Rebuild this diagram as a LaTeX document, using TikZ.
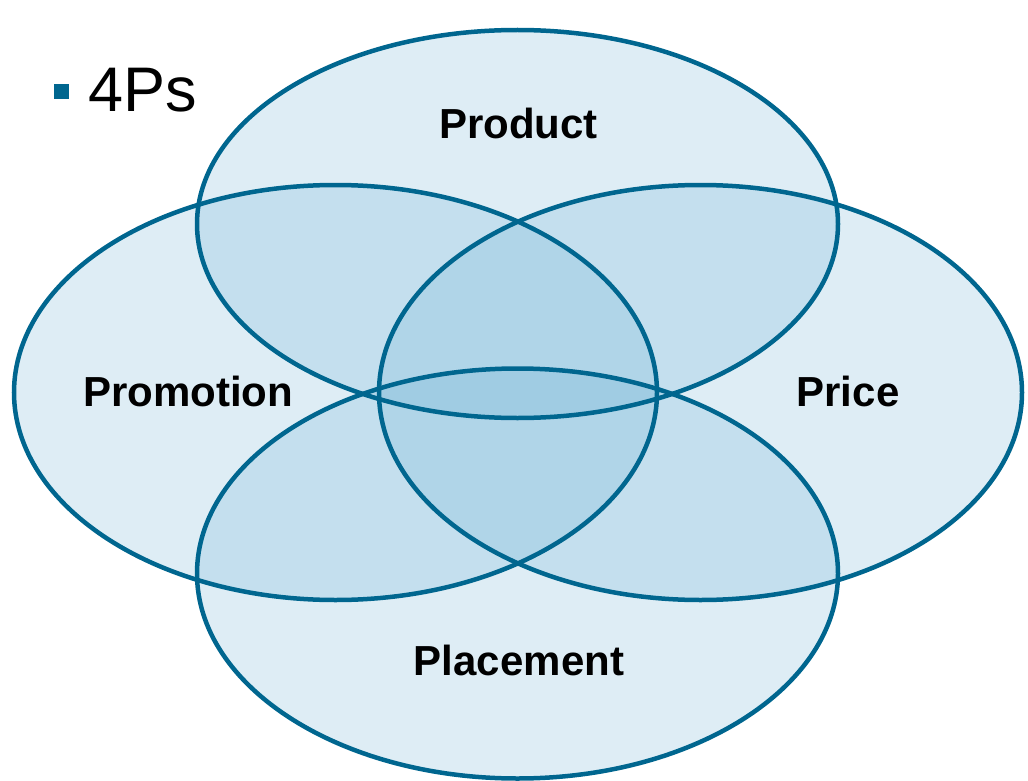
\documentclass[tikz,border=0pt]{standalone}
\usepackage{fontspec}
\setmainfont{Liberation Sans}
\definecolor{ring}{RGB}{0,102,143}
\definecolor{venn}{RGB}{100,172,210}
\tikzset{
  vfill/.style={fill=venn, fill opacity=0.21},
  vline/.style={draw=ring, line width=4.5pt},
  lbl/.style={font=\fontsize{42}{44}\selectfont\bfseries, text=black, inner sep=0pt, anchor=base}
}
\begin{document}
\begin{tikzpicture}[x=1pt,y=-1pt]
\useasboundingbox (0,0) rectangle (1028,781);
% fills
\path[vfill] (517.5,224) ellipse [x radius=320.5, y radius=194];
\path[vfill] (335.5,392.5) ellipse [x radius=321.5, y radius=207.5];
\path[vfill] (700.5,392.5) ellipse [x radius=321.5, y radius=207.5];
\path[vfill] (517.5,573.5) ellipse [x radius=320.5, y radius=205];
% outlines
\path[vline] (517.5,224) ellipse [x radius=320.5, y radius=194];
\path[vline] (335.5,392.5) ellipse [x radius=321.5, y radius=207.5];
\path[vline] (700.5,392.5) ellipse [x radius=321.5, y radius=207.5];
\path[vline] (517.5,573.5) ellipse [x radius=320.5, y radius=205];
% labels
\node[lbl] (product) at (518.5,139) {Product};
\node[lbl] (promotion) at (188,406) {Promotion};
\node[lbl] (price) at (848,406) {Price};
\node[lbl] (placement) at (519,675) {Placement};
% title bullet
\fill[ring] (54,84) rectangle (69,99);
\node[font=\fontsize{63}{66}\selectfont, inner sep=0pt, anchor=base west] (title) at (88,112) {4Ps};
\end{tikzpicture}
\end{document}
